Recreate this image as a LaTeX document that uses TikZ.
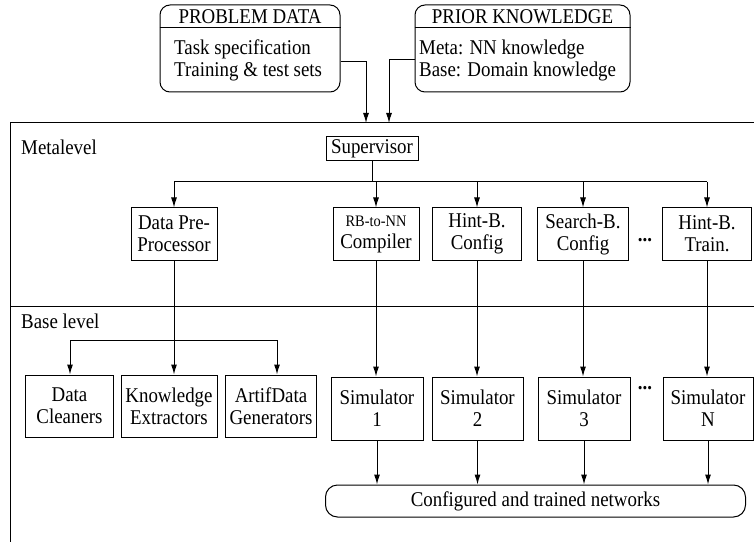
\documentclass[tikz,border=0pt]{standalone}
\usepackage{fontspec}
\setmainfont{Liberation Serif}[FakeStretch=0.9]
\usetikzlibrary{arrows.meta,calc}
\newcommand\dfont{\fontsize{21bp}{22bp}\selectfont}
\newcommand\sfont{\fontsize{16bp}{17bp}\selectfont}
\tikzset{
  ln/.style={line width=1bp},
  arr/.style={ln, -{Latex[length=10bp,width=6bp]}},
  box/.style={draw, ln, inner sep=0pt, align=center, font=\dfont},
  rbox/.style={box, rounded corners=10bp},
  txt/.style={inner sep=0pt, font=\dfont},
  dots/.style={inner sep=0pt, font=\dfont\bfseries, anchor=base},
}
\begin{document}
\begin{tikzpicture}[x=1bp,y=-1bp]
\useasboundingbox (0,0) rectangle (754,542);

% input boxes
\node[rbox, minimum width=180bp, minimum height=87bp] (pd) at (250,48.5) {};
\node[rbox, minimum width=215bp, minimum height=87bp] (pk) at (522.5,48.5) {};
\draw[ln] (pd.west |- 0,28) -- (pd.east |- 0,28);
\draw[ln] (pk.west |- 0,28) -- (pk.east |- 0,28);
\node[txt] (pdh) at (250,17) {PROBLEM DATA};
\node[txt] (pkh) at (522.5,17) {PRIOR KNOWLEDGE};
\node[txt, align=left, anchor=west] (pdb) at (174,60) {Task specification\\Training \& test sets};
\node[txt, align=left, anchor=west] (pkb) at (419,60) {Meta: NN knowledge\\Base: Domain knowledge};

% system frame
\coordinate (tl) at (10,123);
\coordinate (tr) at (754,123);
\coordinate (bl) at (10,542);
\coordinate (ml) at (10,306);
\coordinate (mr) at (754,306);
\draw[ln] (tr) -- (tl) -- (bl);
\draw[ln] (ml) -- (mr);
\node[txt, anchor=west] (meta) at (21,147) {Metalevel};
\node[txt, anchor=west] (base) at (21,321) {Base level};

% inputs into the system
\coordinate (inA) at (366,123);
\coordinate (inB) at (389,123);
\draw[arr] ($(pd.east)+(0,13.5)$) -| (inA);
\draw[arr] ($(pk.west)+(0,11.5)$) -| (inB);

% metalevel
\node[box, minimum width=92bp, minimum height=24bp] (sup) at (372,149) {Supervisor};
\node[box, minimum width=86bp, minimum height=52bp] (dpp) at (174,234) {Data Pre-\\Processor};
\node[box, minimum width=86bp, minimum height=52bp] (rb) at (376,234) {{\sfont RB-to-NN}\\Compiler};
\node[box, minimum width=89bp, minimum height=52bp] (hbc) at (477,234) {Hint-B.\\Config};
\node[box, minimum width=91bp, minimum height=52bp] (sbc) at (583,234) {Search-B.\\Config};
\node[box, minimum width=89bp, minimum height=52bp] (hbt) at (707,234) {Hint-B.\\Train.};
\node[dots] (d1) at (645,242) {...};

\coordinate (bus) at (372,182);
\draw[ln] (sup.south) -- (bus);
\draw[ln] (dpp.north |- bus) -- (hbt.north |- bus);
\foreach \n in {dpp,rb,hbc,sbc,hbt} \draw[arr] (\n.north |- bus) -- (\n.north);

% base level
\node[box, minimum width=87bp, minimum height=62bp] (dc) at (69.5,406) {Data\\Cleaners};
\node[box, minimum width=96bp, minimum height=62bp] (ke) at (169,406) {Knowledge\\Extractors};
\node[box, minimum width=91bp, minimum height=62bp] (adg) at (271,406) {ArtifData\\Generators};
\node[box, minimum width=92bp, minimum height=63bp] (s1) at (377,408.5) {Simulator\\1};
\node[box, minimum width=91bp, minimum height=63bp] (s2) at (477.5,408.5) {Simulator\\2};
\node[box, minimum width=92bp, minimum height=63bp] (s3) at (584,408.5) {Simulator\\3};
\node[box, minimum width=90bp, minimum height=63bp] (sn) at (708,408.5) {Simulator\\N};
\node[dots] (d2) at (645,389) {...};

% pre-processor fans out to its helpers
\coordinate (pl) at (70,340);
\coordinate (pr) at (277,340);
\draw[ln] (pl) -- (pr);
\draw[arr] (dpp.south) -- (dpp.south |- ke.north);
\draw[arr] (pl) -- (pl |- dc.north);
\draw[arr] (pr) -- (pr |- adg.north);

% configurators drive the simulators
\draw[arr] (rb.south) -- (rb.south |- s1.north);
\draw[arr] (hbc.south) -- (hbc.south |- s2.north);
\draw[arr] (sbc.south) -- (sbc.south |- s3.north);
\draw[arr] (hbt.south) -- (hbt.south |- sn.north);

% results
\node[box, rounded corners=12bp, minimum width=420bp, minimum height=32bp] (cfg) at (535.5,501) {Configured and trained networks};
\foreach \n in {s1,s2,s3,sn} \draw[arr] (\n.south) -- (\n.south |- cfg.north);
\end{tikzpicture}
\end{document}
